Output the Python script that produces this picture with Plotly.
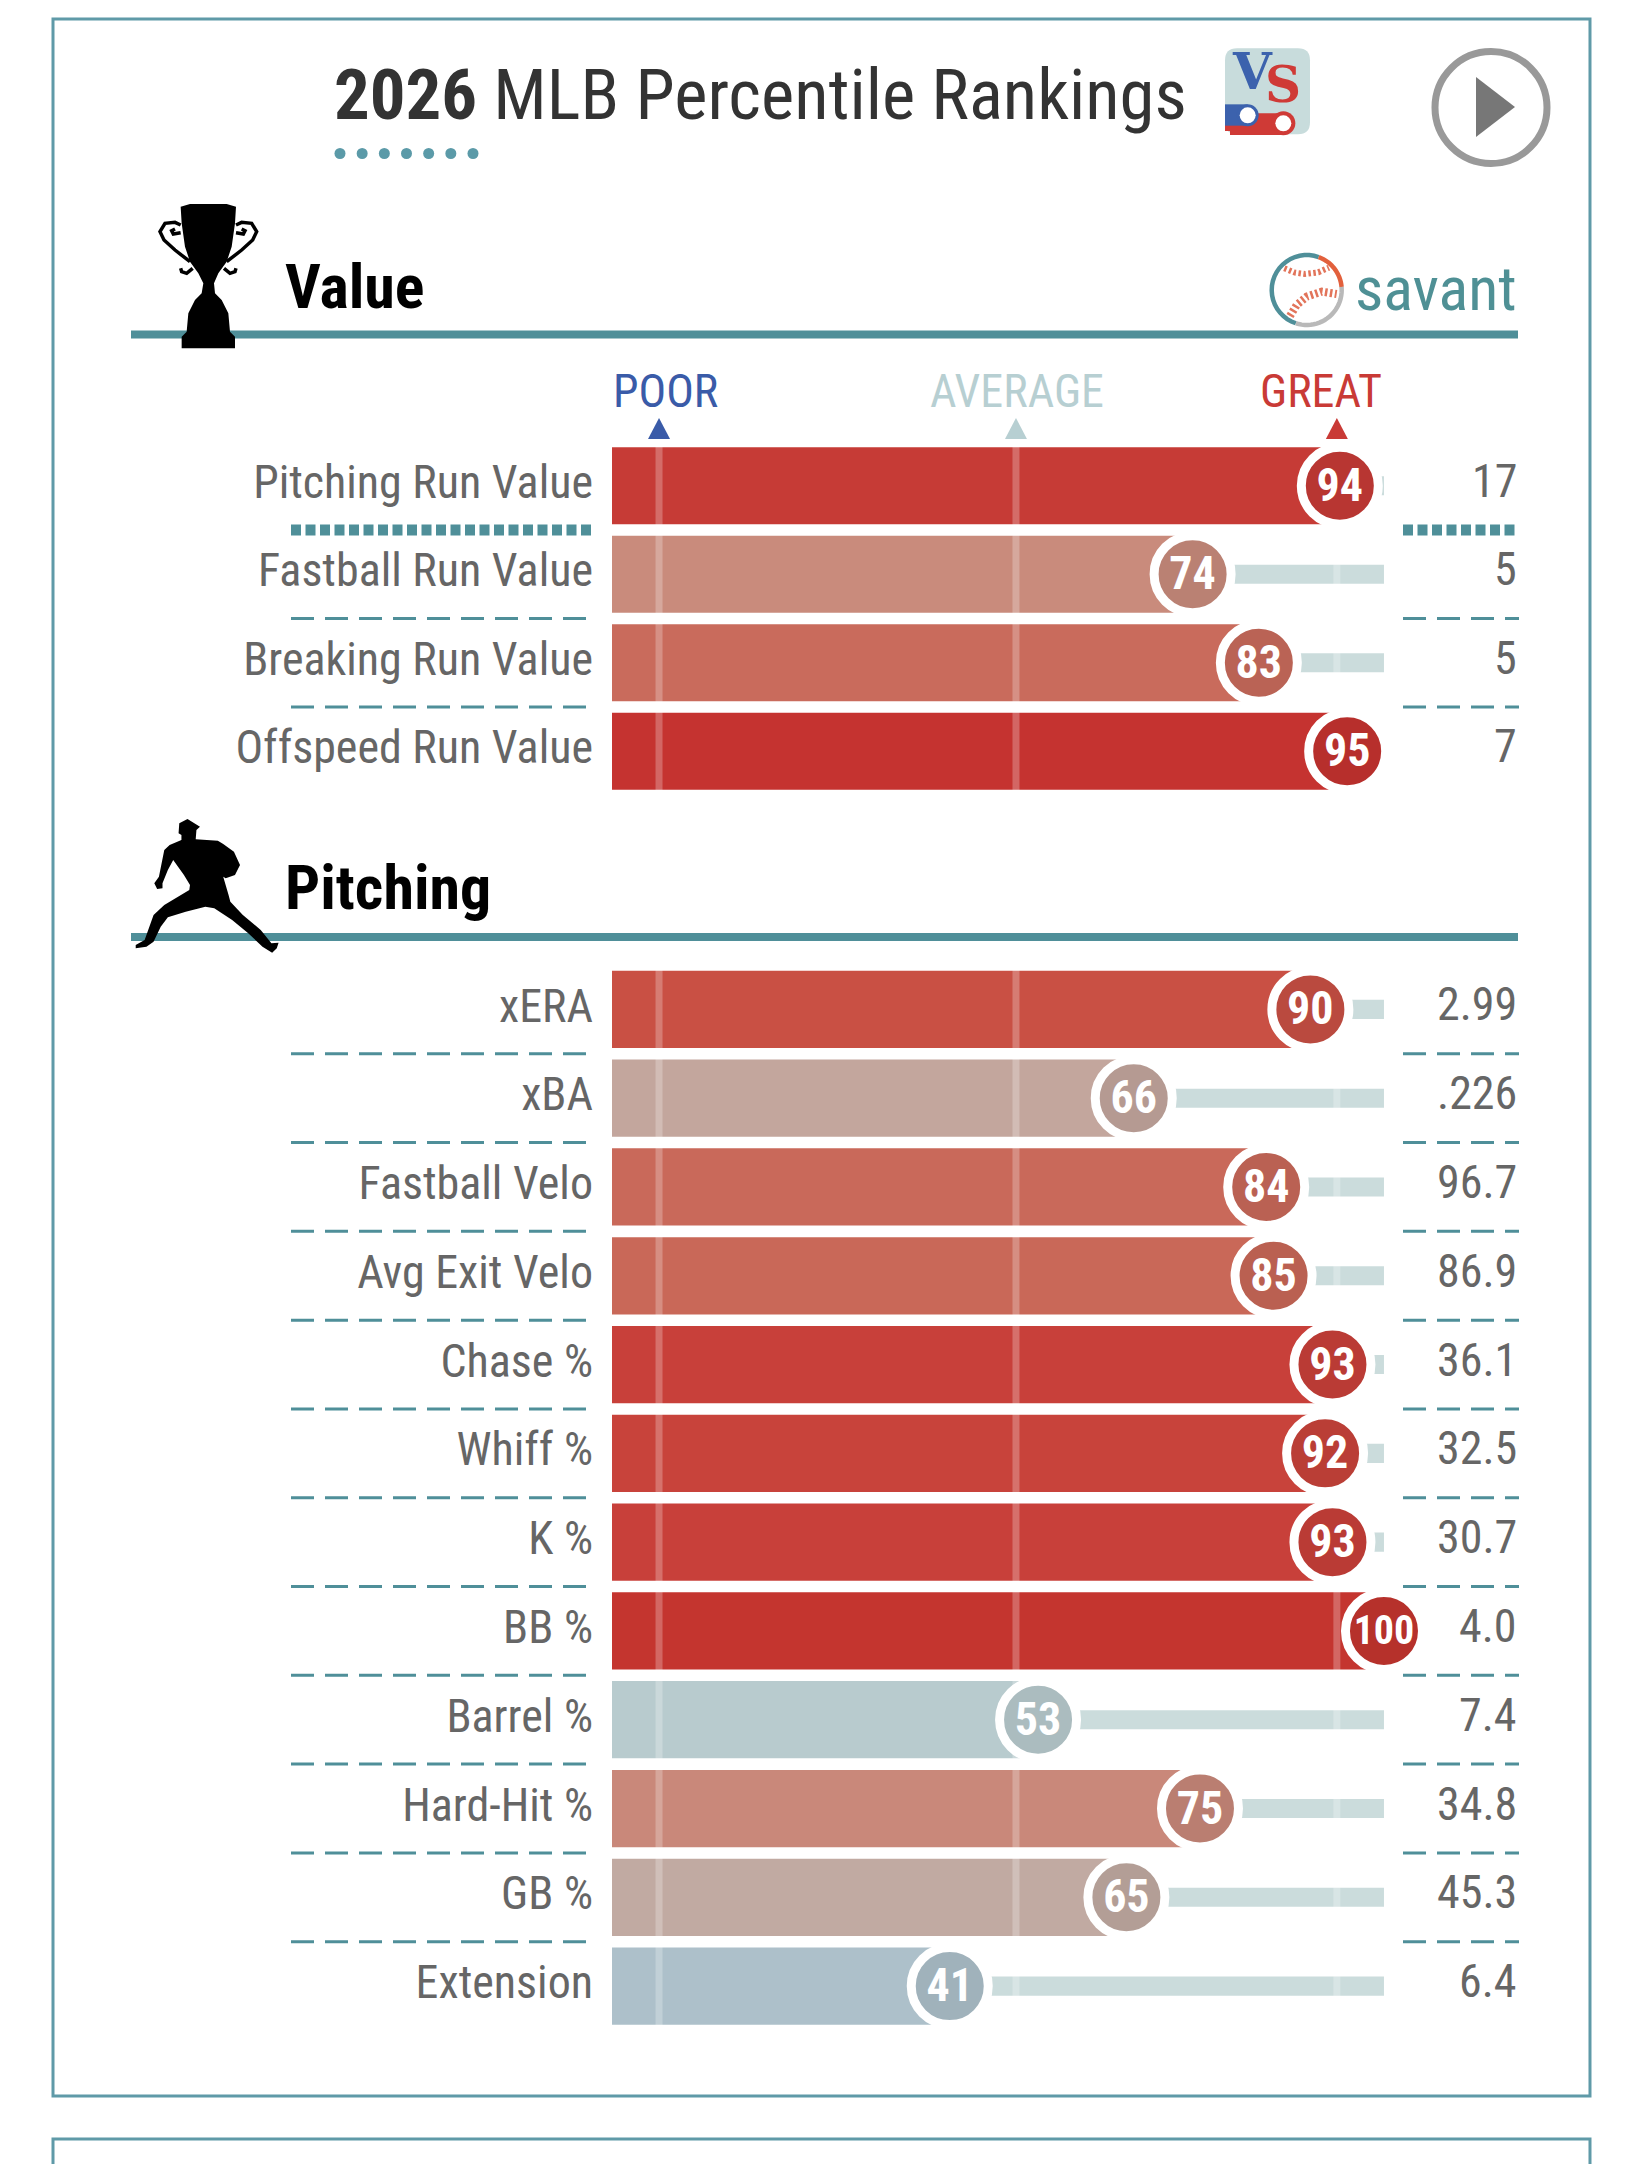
import numpy as np
import plotly.graph_objects as go

FONT = "Roboto Condensed, Liberation Sans Narrow, DejaVu Sans Condensed, Roboto"
W, H = 1644, 2164
TEAL = "#4f8f99"
FRAME = "#5f9aa8"

value_labels = ["Pitching Run Value", "Fastball Run Value", "Breaking Run Value", "Offspeed Run Value"]
value_pcts = [94, 74, 83, 95]
value_stats = ["17", "5", "5", "7"]
value_colors = ["#c63b36", "#c98b7c", "#c96b5c", "#c53330"]

pitch_labels = ["xERA", "xBA", "Fastball Velo", "Avg Exit Velo", "Chase %", "Whiff %",
                "K %", "BB %", "Barrel %", "Hard-Hit %", "GB %", "Extension"]
pitch_pcts = [90, 66, 84, 85, 93, 92, 93, 100, 53, 75, 65, 41]
pitch_stats = ["2.99", ".226", "96.7", "86.9", "36.1", "32.5", "30.7", "4.0", "7.4", "34.8", "45.3", "6.4"]
pitch_colors = ["#c95044", "#c3a69d", "#c9695a", "#c96858", "#c8403a", "#c8433b", "#c8403a",
                "#c4352f", "#b8cbce", "#c9887a", "#c1aaa2", "#adc0ca"]

marker_names = ["POOR", "AVERAGE", "GREAT"]
marker_pcts = [1.5, 50, 93.6]
marker_colors = ["#3a5ba8", "#b7cfd2", "#c93a36"]

BAR_START = -4.89
AXIS_END = 100.14


def px(x):
    return x / W


def py(y):
    return 1 - y / H


def poly(points, close=True):
    s = "M " + " L ".join(f"{px(x):.5f},{py(y):.5f}" for x, y in points)
    return s + (" Z" if close else "")


def local(points, ox, oy, sx=3.0, sy=3.0):
    return [(ox + a / sx, oy + b / sy) for a, b in points]


def path_shape(points, fill=None, line=None, width=0, close=True, dash=None):
    d = dict(type="path", xref="paper", yref="paper", path=poly(points, close),
             line=dict(width=width, color=line or "rgba(0,0,0,0)"))
    if dash:
        d["line"]["dash"] = dash
    if fill:
        d["fillcolor"] = fill
    return d


def circle(cx, cy, r, fill=None, line=None, width=0):
    d = dict(type="circle", xref="paper", yref="paper",
             x0=px(cx - r), x1=px(cx + r), y0=py(cy + r), y1=py(cy - r),
             line=dict(width=width, color=line or "rgba(0,0,0,0)"))
    if fill:
        d["fillcolor"] = fill
    return d


def rect(x0, y0, x1, y1, fill):
    return dict(type="rect", xref="paper", yref="paper", x0=px(x0), x1=px(x1), y0=py(y1), y1=py(y0),
                fillcolor=fill, line=dict(width=0))


def darker(hex_color, f=0.93):
    r, g, b = [int(hex_color[i:i + 2], 16) for i in (1, 3, 5)]
    return f"rgb({int(r * f)},{int(g * f)},{int(b * f)})"


fig = go.Figure()


def add_group(labels, pcts, colors, yaxis):
    n = len(labels)
    rows = list(range(n))
    # thin track, then the bar on top of it
    fig.add_trace(go.Bar(y=rows, x=[100 - p for p in pcts], base=pcts, orientation="h", width=0.215,
                         marker=dict(color="#cbdcdc", line=dict(width=0)), yaxis=yaxis))
    fig.add_trace(go.Bar(y=rows, x=[p - BAR_START for p in pcts], base=BAR_START, orientation="h", width=0.87,
                         marker=dict(color=colors, line=dict(width=0)), yaxis=yaxis))
    lx, ly = [], []
    for m in marker_pcts:
        lx += [m, m, None]
        ly += [-0.5, n - 0.5, None]
    fig.add_trace(go.Scatter(x=lx, y=ly, mode="lines", yaxis=yaxis,
                             line=dict(color="rgba(255,255,255,0.25)", width=7)))
    fig.add_trace(go.Scatter(x=pcts, y=rows, mode="markers", yaxis=yaxis, cliponaxis=False,
                             marker=dict(size=77, color=[darker(c) for c in colors],
                                         line=dict(color="white", width=9))))
    # numbers sit a little low in the circles
    fig.add_trace(go.Scatter(x=pcts, y=[r + 0.04 for r in rows], mode="text", yaxis=yaxis, cliponaxis=False,
                             text=[str(p) for p in pcts], textposition="middle center",
                             textfont=dict(family=FONT, color="white", weight="bold",
                                           size=[46 if p < 100 else 40 for p in pcts])))


add_group(value_labels, value_pcts, value_colors, "y")
add_group(pitch_labels, pitch_pcts, pitch_colors, "y2")

shapes = []
annotations = []

# card frames
shapes.append(path_shape([(53, 19), (1590, 19), (1590, 2096), (53, 2096)], line=FRAME, width=3))
shapes.append(path_shape([(53, 2170), (53, 2139), (1590, 2139), (1590, 2170)], line=FRAME, width=3, close=False))

# row separators
for axis, n in (("y", len(value_labels)), ("y2", len(pitch_labels))):
    for i in range(n - 1):
        heavy = axis == "y" and i == 0
        for x0, x1 in ((291, 594), (1403, 1519)):
            shapes.append(dict(type="line", xref="paper", yref=axis, x0=px(x0), x1=px(x1), y0=i + 0.5, y1=i + 0.5,
                               line=dict(color=TEAL, width=11 if heavy else 3,
                                         dash="10px,4.5px" if heavy else "23px,11px")))

# section rules
for y in (334.5, 937):
    shapes.append(rect(131, y - 4, 1518, y + 4, TEAL))

# title dots
for x in np.linspace(340, 473, 7):
    shapes.append(circle(x, 153.5, 5.5, fill="#5b9aa8"))

# play button
shapes.append(circle(1491, 107.5, 56, line="#999999", width=7))
shapes.append(path_shape([(1476, 77), (1515, 107), (1476, 137)], fill="#777777"))

# VS logo
ox, oy = 1210, 35
vs = lambda a, b: (ox + a / 3, oy + b / 3)
x0, y0 = vs(45, 40)
x1, y1 = vs(300, 298)
r = 12
shapes.append(dict(type="path", xref="paper", yref="paper", fillcolor="#c8dcdc", line=dict(width=0),
                   path=(f"M {px(x0 + r)},{py(y0)} L {px(x1 - r)},{py(y0)} Q {px(x1)},{py(y0)} {px(x1)},{py(y0 + r)} "
                         f"L {px(x1)},{py(y1 - r)} Q {px(x1)},{py(y1)} {px(x1 - r)},{py(y1)} "
                         f"L {px(x0 + r)},{py(y1)} Q {px(x0)},{py(y1)} {px(x0)},{py(y1 - r)} "
                         f"L {px(x0)},{py(y0 + r)} Q {px(x0)},{py(y0)} {px(x0 + r)},{py(y0)} Z")))
shapes.append(rect(*vs(60, 235), *vs(220, 300), "#cf3a36"))
shapes.append(circle(*vs(220, 265), 12, fill="#cf3a36"))
shapes.append(rect(*vs(45, 268), *vs(90, 288), "#cf3a36"))
shapes.append(rect(*vs(45, 208), *vs(113, 272), "#3c62ad"))
shapes.append(circle(*vs(113, 241), 11, fill="#3c62ad"))
shapes.append(circle(*vs(113, 241), 8, fill="white"))
shapes.append(circle(*vs(220, 265), 8, fill="white"))

# savant baseball
bx, by, br = 1306.7, 290, 35


def arc(a0, a1):
    return [(bx + br * np.cos(np.radians(a)), by + br * np.sin(np.radians(a))) for a in np.linspace(a0, a1, 24)]


shapes.append(path_shape(arc(108, 290), line=TEAL, width=4.5, close=False))
shapes.append(path_shape(arc(-70, -5), line="#e2603c", width=4.5, close=False))
shapes.append(path_shape(arc(-5, 108), line="#b9b9b9", width=4.5, close=False))
stitch_top = [(88, 85), (120, 98), (150, 102), (190, 97), (222, 83)]
stitch_low = [(105, 228), (125, 195), (155, 170), (200, 155), (245, 162)]
shapes.append(path_shape(local(stitch_top, 1255, 240), line="#e2745a", width=6, close=False, dash="2.5px,2.5px"))
shapes.append(path_shape(local(stitch_low, 1255, 240), line="#e2745a", width=8, close=False, dash="2.5px,2.5px"))

# trophy
cup = [(122, 50), (150, 42), (260, 42), (288, 50), (285, 100), (275, 170), (260, 215), (235, 250), (222, 280),
       (225, 310), (245, 330), (265, 370), (270, 425), (285, 440), (285, 475), (125, 475), (125, 440), (140, 425),
       (145, 370), (165, 330), (185, 310), (190, 280), (175, 250), (150, 215), (135, 170), (125, 100)]
handle = [(150, 215), (105, 180), (72, 150), (60, 125), (75, 100), (105, 97), (122, 105)]
curl = [(122, 128), (100, 132), (95, 122), (105, 117)]
curl2 = [(158, 235), (140, 250), (125, 245), (122, 235)]
shapes.append(path_shape(local(cup, 140, 190), fill="black"))
for pts in (handle, curl, curl2):
    shapes.append(path_shape(local(pts, 140, 190), line="black", width=3.5, close=False))
    shapes.append(path_shape(local([(410 - a, b) for a, b in pts], 140, 190), line="black", width=3.5, close=False))

# pitcher
pitcher = [(245, 117), (280, 140), (270, 150), (268, 178), (330, 182), (345, 192), (375, 215), (392, 255), (378, 285),
           (352, 295), (345, 290), (360, 345), (365, 365), (400, 405), (450, 450), (480, 490), (500, 488), (495, 505),
           (482, 518), (455, 500), (415, 460), (370, 420), (320, 385), (295, 380), (240, 395), (190, 412), (170, 440),
           (150, 485), (130, 500), (100, 505), (100, 495), (125, 480), (135, 450), (150, 405), (180, 375), (250, 330),
           (252, 315), (235, 285), (205, 240), (190, 270), (175, 310), (175, 325), (160, 327), (152, 310), (165, 290),
           (180, 210), (195, 195), (228, 180), (228, 165), (220, 160), (222, 130)]
shapes.append(path_shape(local(pitcher, 100, 780, sx=2.8, sy=3), fill="black"))

# POOR / AVERAGE / GREAT triangles
for m, c in zip(marker_pcts, marker_colors):
    shapes.append(dict(type="path", xref="x", yref="paper", xsizemode="pixel", xanchor=m,
                       path=f"M -11,{py(439)} L 0,{py(418)} L 11,{py(439)} Z", fillcolor=c, line=dict(width=0)))


def text(x, y, s, size, color, anchor="left", weight=None, family=FONT):
    f = dict(family=family, size=size, color=color)
    if weight:
        f["weight"] = weight
    annotations.append(dict(xref="paper", yref="paper", x=px(x), y=py(y), text=s, showarrow=False,
                            xanchor=anchor, yanchor="middle", font=f, borderpad=0))


text(333, 95, "<b>2026</b> MLB Percentile Rankings", 70.8, "#333333")
text(284, 287, "Value", 62, "black", weight="bold")
text(284, 887, "Pitching", 62, "black", weight="bold")
text(1518, 288, "savant", 62, "#4f9095", anchor="right")
text(vs(127, 120)[0], vs(127, 120)[1] - 4, "V", 50, "#3c62ad", anchor="center", weight="bold", family="DejaVu Serif")
text(vs(218, 155)[0], vs(218, 155)[1] - 2, "S", 50, "#cf3a36", anchor="center", weight="bold", family="DejaVu Serif")
text(665, 391, marker_names[0], 46, marker_colors[0], anchor="center")
text(1017, 391, marker_names[1], 46, marker_colors[1], anchor="center")
text(1321, 391, marker_names[2], 46, marker_colors[2], anchor="center")

for axis, stats in (("y", value_stats), ("y2", pitch_stats)):
    for i, s in enumerate(stats):
        annotations.append(dict(xref="paper", yref=axis, x=px(1519), y=i, text=s, showarrow=False, xanchor="right",
                                yanchor="middle", yshift=5, font=dict(family=FONT, size=46, color="#666666")))

tick_font = dict(family=FONT, size=46, color="#666666")
fig.update_layout(
    width=W, height=H, margin=dict(l=0, r=0, t=0, b=0), showlegend=False,
    paper_bgcolor="white", plot_bgcolor="white", barmode="overlay",
    shapes=shapes, annotations=annotations,
    xaxis=dict(domain=[px(612), px(1385)], range=[BAR_START, AXIS_END], visible=False, anchor="y"),
    yaxis=dict(domain=[py(795.4), py(441.6)], range=[3.5, -0.5], tickvals=[i - 0.045 for i in range(4)],
               ticktext=value_labels, showgrid=False, zeroline=False, showline=False, ticks="",
               ticklabelstandoff=18, tickfont=tick_font, anchor="x"),
    yaxis2=dict(domain=[py(2030.5), py(965)], range=[11.5, -0.5], tickvals=[i - 0.045 for i in range(12)],
                ticktext=pitch_labels, showgrid=False, zeroline=False, showline=False, ticks="",
                ticklabelstandoff=18, tickfont=tick_font, anchor="x"),
)

fig.write_html("out.html", config={"displayModeBar": False}, post_script="document.body.style.margin='0';")
